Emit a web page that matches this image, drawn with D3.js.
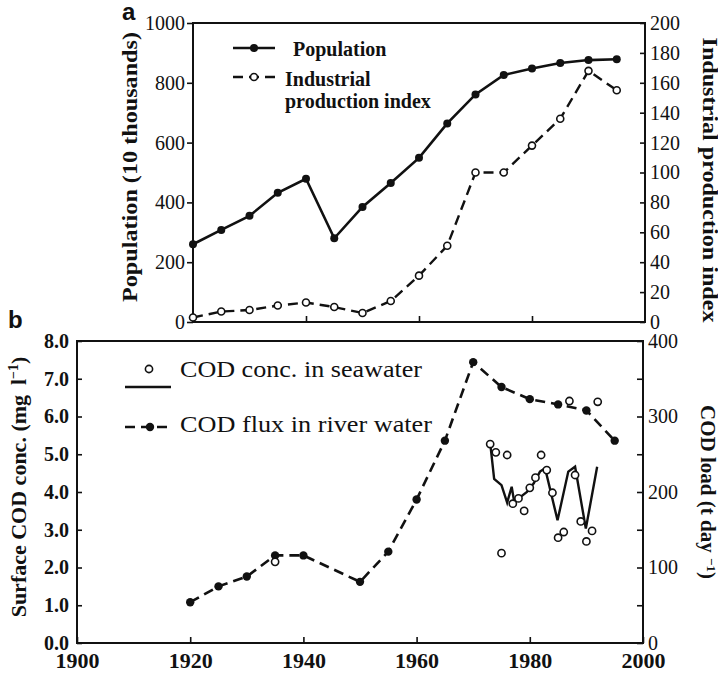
<!DOCTYPE html>
<html>
<head>
<meta charset="utf-8">
<script src="https://cdn.jsdelivr.net/npm/d3@7"></script>
<style>
  body { margin: 0; background: #fff; }
  svg { display: block; }
</style>
</head>
<body>
<svg id="chart" width="718" height="675"></svg>
<script>
// ---------- DATA ----------
const popYears = [1920,1925,1930,1935,1940,1945,1950,1955,1960,1965,1970,1975,1980,1985,1990,1995];
const population = [260,308,355,432,479,280,385,465,549,664,761,826,848,866,876,879];
const industrialIndex = [3,7,8,11,13,10,6,14,31,51,100,100,118,136,168,155];

const fluxYears = [1920,1925,1930,1935,1940,1950,1955,1960,1965,1970,1975,1980,1985,1990,1995];
const codFlux = [54,75,88,116,116,81,121,190,268,372,339,323,316,308,268];

const seaYears = [1935,1973,1974,1975,1976,1977,1978,1979,1980,1981,1982,1983,1984,1985,1986,1987,1988,1989,1990,1991,1992];
const seaConc = [2.15,5.27,5.05,2.38,4.98,3.69,3.83,3.5,4.11,4.38,4.98,4.58,3.98,2.79,2.94,6.41,4.45,3.22,2.69,2.97,6.39];

const trendYears = [1973,1973.7,1975,1976,1976.8,1977.2,1978,1979.5,1980.7,1981.8,1982.7,1984.9,1986.8,1988,1989.9,1991.9];
const trendConc = [5.3,4.35,4.18,3.72,4.14,3.78,3.83,4.0,4.23,4.54,4.63,3.25,4.54,4.67,3.03,4.67];

const popTicks = [0,200,400,600,800,1000];
const indTicks = [0,20,40,60,80,100,120,140,160,180,200];
const concTicks = [0,1,2,3,4,5,6,7,8];
const loadTicks = [0,50,100,150,200,250,300,350,400];
const yearTicksA = [1940,1960,1980];
const yearTicksB = [1900,1920,1940,1960,1980,2000];

// ---------- SETUP ----------
const svg = d3.select("#chart");
const SERIF = "'Liberation Serif','Times New Roman',serif";
const SANS = "'Liberation Sans',Arial,sans-serif";

function styleAxis(g, fontSize, weight) {
  g.attr("font-family", null).attr("font-size", null);
  g.select(".domain").remove();
  g.selectAll(".tick line").attr("stroke", "#111").attr("stroke-width", 1.6);
  g.selectAll(".tick text").attr("fill", "#111")
    .style("font-family", SERIF).style("font-size", fontSize + "px")
    .style("font-weight", weight);
}

// ---------- PANEL A ----------
const A = {left: 193, right: 645, top: 23, bottom: 322};
const xA = d3.scaleLinear().domain([1920, 2000]).range([A.left, A.right]);
const yPop = d3.scaleLinear().domain([0, 1000]).range([A.bottom, A.top]);
const yInd = d3.scaleLinear().domain([0, 200]).range([A.bottom, A.top]);

const gA = svg.append("g");
gA.append("rect").attr("x", A.left).attr("y", A.top)
  .attr("width", A.right - A.left).attr("height", A.bottom - A.top)
  .attr("fill", "none").attr("stroke", "#111").attr("stroke-width", 2);

gA.append("g").attr("transform", `translate(${A.left},0)`)
  .call(d3.axisLeft(yPop).tickValues(popTicks).tickSize(6).tickPadding(2).tickFormat(d3.format("d")))
  .call(g => styleAxis(g, 20, "normal"));
gA.append("g").attr("transform", `translate(${A.right},0)`)
  .call(d3.axisRight(yInd).tickValues(indTicks).tickSize(-5).tickPadding(5).tickFormat(d3.format("d")))
  .call(g => styleAxis(g, 20, "normal"));
gA.append("g").attr("transform", `translate(0,${A.bottom})`)
  .call(d3.axisBottom(xA).tickValues(yearTicksA).tickSize(-6).tickFormat(""))
  .call(g => styleAxis(g, 20, "normal"));

const popData = popYears.map((y, i) => ({x: y, v: population[i]}));
const indData = popYears.map((y, i) => ({x: y, v: industrialIndex[i]}));

gA.append("path").datum(indData)
  .attr("d", d3.line().x(d => xA(d.x)).y(d => yInd(d.v)))
  .attr("fill", "none").attr("stroke", "#111").attr("stroke-width", 2.4)
  .attr("stroke-dasharray", "10,6");
gA.append("path").datum(popData)
  .attr("d", d3.line().x(d => xA(d.x)).y(d => yPop(d.v)))
  .attr("fill", "none").attr("stroke", "#111").attr("stroke-width", 2.6);
gA.selectAll("circle.ind").data(indData).join("circle").attr("class", "ind")
  .attr("cx", d => xA(d.x)).attr("cy", d => yInd(d.v)).attr("r", 3.5)
  .attr("fill", "#fff").attr("stroke", "#111").attr("stroke-width", 1.6);
gA.selectAll("circle.pop").data(popData).join("circle").attr("class", "pop")
  .attr("cx", d => xA(d.x)).attr("cy", d => yPop(d.v)).attr("r", 4)
  .attr("fill", "#111");

// legend A
const legA = gA.append("g");
legA.append("line").attr("x1", 233).attr("x2", 275).attr("y1", 48).attr("y2", 48)
  .attr("stroke", "#111").attr("stroke-width", 2.6);
legA.append("circle").attr("cx", 254).attr("cy", 48).attr("r", 4).attr("fill", "#111");
legA.append("line").attr("x1", 233).attr("x2", 275).attr("y1", 77).attr("y2", 77)
  .attr("stroke", "#111").attr("stroke-width", 2.4).attr("stroke-dasharray", "10,6");
legA.append("circle").attr("cx", 254).attr("cy", 77).attr("r", 3.5)
  .attr("fill", "#fff").attr("stroke", "#111").attr("stroke-width", 1.6);
const legAText = [["Population", 293, 56], ["Industrial", 285, 86], ["production index", 285, 108]];
legA.selectAll("text").data(legAText).join("text")
  .attr("x", d => d[1]).attr("y", d => d[2])
  .text(d => d[0])
  .style("font-family", SERIF).style("font-size", "20px").style("font-weight", "bold")
  .attr("fill", "#111");

// axis titles A
svg.append("text").attr("transform", "translate(137,167) rotate(-90)")
  .attr("text-anchor", "middle").text("Population (10 thousands)")
  .attr("textLength", 270).attr("lengthAdjust", "spacingAndGlyphs")
  .style("font-family", SERIF).style("font-size", "21px").style("font-weight", "bold").attr("fill", "#111");
svg.append("text").attr("transform", "translate(703,180) rotate(90)")
  .attr("text-anchor", "middle").text("Industrial production index")
  .attr("textLength", 285).attr("lengthAdjust", "spacingAndGlyphs")
  .style("font-family", SERIF).style("font-size", "21px").style("font-weight", "bold").attr("fill", "#111");
svg.append("text").attr("x", 122).attr("y", 20).text("a")
  .style("font-family", SANS).style("font-size", "24px").style("font-weight", "bold").attr("fill", "#111");

// ---------- PANEL B ----------
const B = {left: 77, right: 643, top: 341, bottom: 643};
const xB = d3.scaleLinear().domain([1900, 2000]).range([B.left, B.right]);
const yConc = d3.scaleLinear().domain([0, 8]).range([B.bottom, B.top]);
const yLoad = d3.scaleLinear().domain([0, 400]).range([B.bottom, B.top]);

const gB = svg.append("g");
gB.append("rect").attr("x", B.left).attr("y", B.top)
  .attr("width", B.right - B.left).attr("height", B.bottom - B.top)
  .attr("fill", "none").attr("stroke", "#111").attr("stroke-width", 2);

gB.append("g").attr("transform", `translate(${B.left},0)`)
  .call(d3.axisLeft(yConc).tickValues(concTicks).tickSize(-5).tickPadding(8).tickFormat(d3.format(".1f")))
  .call(g => styleAxis(g, 20, "bold"));
gB.append("g").attr("transform", `translate(${B.right},0)`)
  .call(d3.axisRight(yLoad).tickValues(loadTicks).tickSize(-6).tickPadding(5)
    .tickFormat(d => d % 100 === 0 ? d3.format("d")(d) : ""))
  .call(g => styleAxis(g, 20, "normal"));
gB.append("g").attr("transform", `translate(0,${B.bottom})`)
  .call(d3.axisBottom(xB).tickValues(yearTicksB).tickSize(-6).tickPadding(9).tickFormat(d3.format("d")))
  .call(g => styleAxis(g, 22, "bold"));

const fluxData = fluxYears.map((y, i) => ({x: y, v: codFlux[i]}));
const seaData = seaYears.map((y, i) => ({x: y, v: seaConc[i]}));
const trendData = trendYears.map((y, i) => ({x: y, v: trendConc[i]}));

gB.append("path").datum(fluxData)
  .attr("d", d3.line().x(d => xB(d.x)).y(d => yLoad(d.v)))
  .attr("fill", "none").attr("stroke", "#111").attr("stroke-width", 2.6)
  .attr("stroke-dasharray", "10,6");
gB.selectAll("circle.flux").data(fluxData).join("circle").attr("class", "flux")
  .attr("cx", d => xB(d.x)).attr("cy", d => yLoad(d.v)).attr("r", 4.2).attr("fill", "#111");
gB.append("path").datum(trendData)
  .attr("d", d3.line().x(d => xB(d.x)).y(d => yConc(d.v)))
  .attr("fill", "none").attr("stroke", "#111").attr("stroke-width", 2.4)
  .attr("stroke-linejoin", "miter");
gB.selectAll("circle.sea").data(seaData).join("circle").attr("class", "sea")
  .attr("cx", d => xB(d.x)).attr("cy", d => yConc(d.v)).attr("r", 3.6)
  .attr("fill", "#fff").attr("stroke", "#111").attr("stroke-width", 1.6);

// legend B
const legB = gB.append("g");
legB.append("circle").attr("cx", 149).attr("cy", 369).attr("r", 3.6)
  .attr("fill", "#fff").attr("stroke", "#111").attr("stroke-width", 1.6);
legB.append("line").attr("x1", 125).attr("x2", 171).attr("y1", 387).attr("y2", 387)
  .attr("stroke", "#111").attr("stroke-width", 2.4);
legB.append("line").attr("x1", 125).attr("x2", 171).attr("y1", 427).attr("y2", 427)
  .attr("stroke", "#111").attr("stroke-width", 2.6).attr("stroke-dasharray", "10,6");
legB.append("circle").attr("cx", 150).attr("cy", 427).attr("r", 4.2).attr("fill", "#111");
const legBText = [["COD conc. in seawater", 180, 377, 242], ["COD flux in river water", 180, 432, 252]];
legB.selectAll("text").data(legBText).join("text")
  .attr("x", d => d[1]).attr("y", d => d[2]).text(d => d[0])
  .attr("textLength", d => d[3]).attr("lengthAdjust", "spacingAndGlyphs")
  .style("font-family", SERIF).style("font-size", "24px").attr("fill", "#111");

// axis titles B
const tL = svg.append("text").attr("transform", "translate(26,487) rotate(-90)")
  .attr("text-anchor", "middle")
  .style("font-family", SERIF).style("font-size", "22px").style("font-weight", "bold").attr("fill", "#111");
tL.append("tspan").text("Surface COD conc. (mg\u2009 l");
tL.append("tspan").attr("dy", -8).style("font-size", "14px").text("\u22121");
tL.append("tspan").attr("dy", 8).text(")");

const tR = svg.append("text").attr("transform", "translate(701,492) rotate(90)")
  .attr("text-anchor", "middle")
  .style("font-family", SERIF).style("font-size", "21px").style("font-weight", "bold").attr("fill", "#111");
tR.append("tspan").text("COD load (t day ");
tR.append("tspan").attr("dy", -6).style("font-size", "13px").text("\u22121");
tR.append("tspan").attr("dy", 6).text(")");

svg.append("text").attr("x", 8).attr("y", 328).text("b")
  .style("font-family", SANS).style("font-size", "24px").style("font-weight", "bold").attr("fill", "#111");
</script>
</body>
</html>
